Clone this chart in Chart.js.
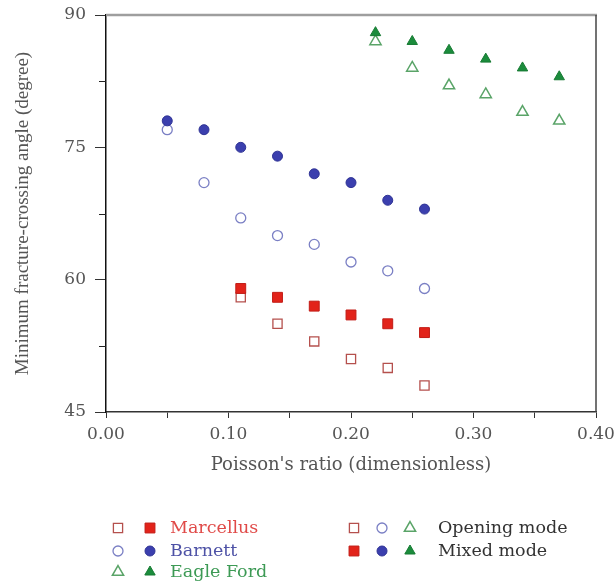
<!DOCTYPE html>
<html>
<head>
<meta charset="utf-8">
<title>Fracture-crossing angle vs Poisson's ratio</title>
<script src="https://cdn.jsdelivr.net/npm/chart.js@4.4.1/dist/chart.umd.min.js"></script>
<style>
  html, body { margin: 0; padding: 0; background: #fff; }
  canvas { display: block; }
</style>
</head>
<body>
<canvas id="chart" width="614" height="585"></canvas>
<script>
// Poisson's ratio for each shale
const marcellusX = [0.11, 0.14, 0.17, 0.20, 0.23, 0.26];
const barnettX = [0.05, 0.08, 0.11, 0.14, 0.17, 0.20, 0.23, 0.26];
const eagleFordX = [0.22, 0.25, 0.28, 0.31, 0.34, 0.37];

// minimum fracture-crossing angle (degree)
const marcellusMixed = [59, 58, 57, 56, 55, 54];
const marcellusOpening = [58, 55, 53, 51, 50, 48];
const barnettMixed = [78, 77, 75, 74, 72, 71, 69, 68];
const barnettOpening = [77, 71, 67, 65, 64, 62, 61, 59];
const eagleFordMixed = [88, 87, 86, 85, 84, 83];
const eagleFordOpening = [87, 84, 82, 81, 79, 78];

const yTickValues = [45, 60, 75, 90];
const yMinorTicks = [52.5, 67.5, 82.5];
const xTickLabels = ['0.00', '0.10', '0.20', '0.30', '0.40'];

const shaleNames = ['Marcellus', 'Barnett', 'Eagle Ford'];
const modeNames = ['Opening mode', 'Mixed mode'];

const RED = '#e2231a', BLUE = '#3b3fae', GREEN = '#1b8c3c';
const RED_OPEN = '#b5504d', BLUE_OPEN = '#7a7fc4', GREEN_OPEN = '#5aa468';

const serif = "'DejaVu Serif', serif";

function pts(xs, ys) {
    return xs.map((x, i) => ({ x: x, y: ys[i] }));
}

const marker = {
    marcellus: { mixed: { pointStyle: 'rect', radius: 7, bg: RED, border: '#c21d17', bw: 1 },
                 open: { pointStyle: 'rect', radius: 6.5, bg: '#fff', border: RED_OPEN, bw: 1.3 } },
    barnett: { mixed: { pointStyle: 'circle', radius: 5, bg: BLUE, border: '#2f3394', bw: 1 },
               open: { pointStyle: 'circle', radius: 5, bg: '#fff', border: BLUE_OPEN, bw: 1.3 } },
    eagle: { mixed: { pointStyle: 'triangle', radius: 6, bg: GREEN, border: '#177a33', bw: 1 },
             open: { pointStyle: 'triangle', radius: 6.5, bg: '#fff', border: GREEN_OPEN, bw: 1.5 } }
};

function ds(label, data, m) {
    return {
        label: label,
        data: data,
        showLine: false,
        pointStyle: m.pointStyle,
        pointRadius: m.radius,
        pointBackgroundColor: m.bg,
        pointBorderColor: m.border,
        pointBorderWidth: m.bw
    };
}

// first datasets are drawn on top
const datasets = [
    ds('Marcellus mixed', pts(marcellusX, marcellusMixed), marker.marcellus.mixed),
    ds('Barnett mixed', pts(barnettX, barnettMixed), marker.barnett.mixed),
    ds('Eagle Ford mixed', pts(eagleFordX, eagleFordMixed), marker.eagle.mixed),
    ds('Marcellus opening', pts(marcellusX, marcellusOpening), marker.marcellus.open),
    ds('Barnett opening', pts(barnettX, barnettOpening), marker.barnett.open),
    ds('Eagle Ford opening', pts(eagleFordX, eagleFordOpening), marker.eagle.open)
];

function drawMarker(ctx, m, x, y) {
    ctx.fillStyle = m.bg;
    ctx.strokeStyle = m.border;
    ctx.lineWidth = m.bw;
    Chart.helpers.drawPoint(ctx, { pointStyle: m.pointStyle, radius: m.radius, rotation: 0, borderWidth: m.bw }, x, y);
}

// frame, minor ticks and the two-column legend below the plot
const extrasPlugin = {
    id: 'extras',
    afterDraw(chart) {
        const { ctx, chartArea: a, scales } = chart;
        ctx.save();

        ctx.strokeStyle = '#9e9e9e';
        ctx.lineWidth = 2.5;
        ctx.beginPath();
        ctx.moveTo(a.left, a.top);
        ctx.lineTo(a.right + 1, a.top);
        ctx.stroke();

        ctx.strokeStyle = '#444';
        ctx.lineWidth = 1.5;
        ctx.beginPath();
        ctx.moveTo(a.right, a.top);
        ctx.lineTo(a.right, a.bottom);
        ctx.stroke();

        ctx.strokeStyle = '#222';
        ctx.lineWidth = 1;
        ctx.beginPath();
        yMinorTicks.forEach(v => {
            const py = Math.round(scales.y.getPixelForValue(v)) + 0.5;
            ctx.moveTo(a.left - 7, py);
            ctx.lineTo(a.left, py);
        });
        ctx.stroke();

        // legend
        const rows = [528, 551, 572];
        const shaleMarkers = [marker.marcellus, marker.barnett, marker.eagle];
        const shaleColors = ['#e04a48', '#4e52a6', '#3d9a55'];
        ctx.font = "17.5px " + serif;
        ctx.textBaseline = 'middle';
        ctx.textAlign = 'left';
        shaleNames.forEach((name, i) => {
            drawMarker(ctx, shaleMarkers[i].open, 118, rows[i]);
            drawMarker(ctx, shaleMarkers[i].mixed, 150, rows[i]);
            ctx.fillStyle = shaleColors[i];
            ctx.fillText(name, 170, rows[i]);
        });
        modeNames.forEach((name, i) => {
            const key = i === 0 ? 'open' : 'mixed';
            drawMarker(ctx, shaleMarkers[0][key], 354, rows[i]);
            drawMarker(ctx, shaleMarkers[1][key], 382, rows[i]);
            drawMarker(ctx, shaleMarkers[2][key], 410, rows[i]);
            ctx.fillStyle = '#333';
            ctx.fillText(name, 438, rows[i]);
        });

        ctx.restore();
    }
};

new Chart(document.getElementById('chart').getContext('2d'), {
    type: 'scatter',
    data: { datasets: datasets },
    plugins: [extrasPlugin],
    options: {
        responsive: false,
        animation: false,
        devicePixelRatio: 1,
        layout: { padding: { left: 0, top: 15, right: 18, bottom: 109 } },
        plugins: {
            legend: { display: false },
            tooltip: { enabled: false }
        },
        scales: {
            x: {
                type: 'linear',
                min: 0,
                max: 0.4,
                afterBuildTicks: scale => {
                    scale.ticks = [0, 0.05, 0.1, 0.15, 0.2, 0.25, 0.3, 0.35, 0.4].map(v => ({ value: v }));
                },
                afterFit: scale => {
                    scale.height = 64;
                    scale.paddingLeft = 0;
                    scale.paddingRight = 0;
                },
                ticks: {
                    autoSkip: false,
                    maxRotation: 0,
                    padding: 6,
                    color: '#555',
                    font: { family: serif, size: 17 },
                    callback: (v, i) => (i % 2 === 0 ? xTickLabels[i / 2] : '')
                },
                grid: { drawOnChartArea: false, tickLength: 6, tickColor: '#333', tickWidth: 1 },
                border: { color: '#333', width: 1.5 },
                title: {
                    display: true,
                    text: "Poisson's ratio (dimensionless)",
                    color: '#555',
                    font: { family: serif, size: 18 },
                    padding: { top: 0, bottom: 0 }
                }
            },
            y: {
                type: 'linear',
                min: 45,
                max: 90,
                afterBuildTicks: scale => {
                    scale.ticks = yTickValues.map(v => ({ value: v }));
                },
                afterFit: scale => {
                    scale.width = 106;
                    scale.paddingTop = 0;
                    scale.paddingBottom = 0;
                },
                ticks: {
                    padding: 9,
                    color: '#555',
                    font: { family: serif, size: 17 }
                },
                grid: { drawOnChartArea: false, tickLength: 11, tickColor: '#333', tickWidth: 1 },
                border: { color: '#111', width: 1.5 },
                title: {
                    display: true,
                    text: 'Minimum fracture-crossing angle (degree)',
                    color: '#555',
                    font: { family: "'Liberation Serif', serif", size: 19 },
                    padding: { top: 12, bottom: 0 }
                }
            }
        }
    }
});
</script>
</body>
</html>
